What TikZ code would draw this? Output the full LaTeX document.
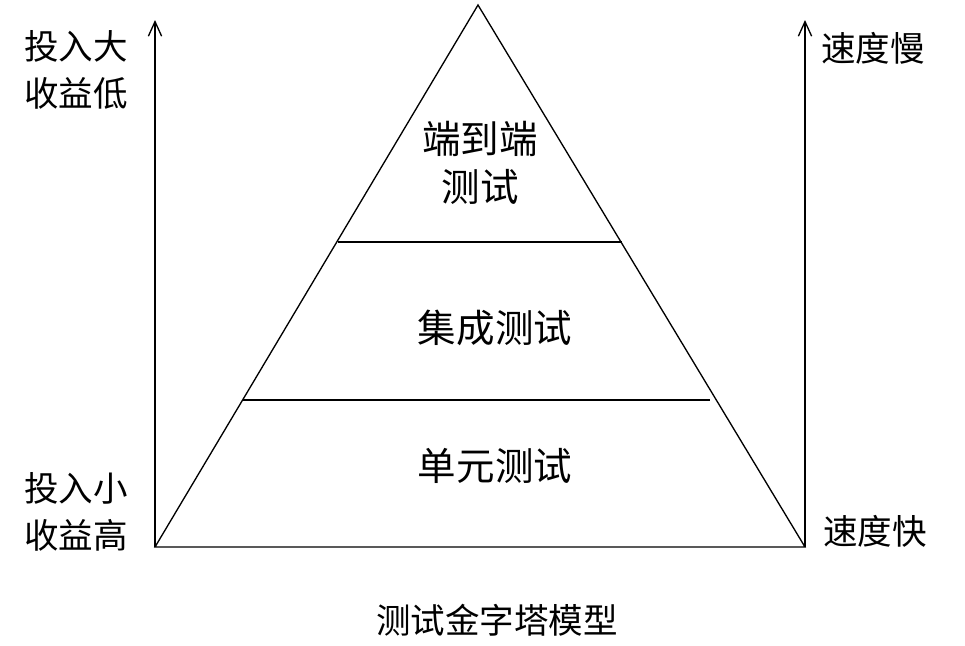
\documentclass[tikz,border=0pt]{standalone}
\usepackage{fontspec}
\newfontfamily\cjk{Noto Sans CJK SC}
\usetikzlibrary{positioning,arrows.meta}
\begin{document}
\begin{tikzpicture}[x=0.0264583cm,y=-0.0264583cm,line width=1pt]
\tikzstyle{lbl}=[font=\cjk\fontsize{26}{35}\selectfont,align=center,inner sep=0pt]
\tikzstyle{big}=[font=\cjk\fontsize{29}{36}\selectfont,align=center,inner sep=0pt]
\useasboundingbox (0,0) rectangle (965,645);
    \coordinate (top) at (478,5);
    \coordinate (bl) at (155,547);
    \coordinate (br) at (805,547);
    \draw (top) -- (bl) -- (br) -- cycle;
    \draw (338,242) -- (622,242);
    \draw (243,400) -- (710,400);
    % axes
    \coordinate (lt) at (155,20);
    \coordinate (rt) at (805,20);
    \draw[-{Straight Barb[length=11pt,width=10pt]}] (bl) -- (lt);
    \draw[-{Straight Barb[length=11pt,width=10pt]}] (br) -- (rt);
    \node[lbl] (hi) at (76,70) {投入大\\收益低};
    \node[lbl] (lo) at (76,512) {投入小\\收益高};
    \node[lbl] (slow) at (873,48) {速度慢};
    \node[lbl] (fast) at (875,531) {速度快};
    \node[big] (e2e) at (480,163) {端到端\\测试};
    \node[big] (int) at (495,328) {集成测试};
    \node[big] (unit) at (495,466) {单元测试};
    \node[lbl] (cap) at (497,620) {测试金字塔模型};
\end{tikzpicture}
\end{document}
